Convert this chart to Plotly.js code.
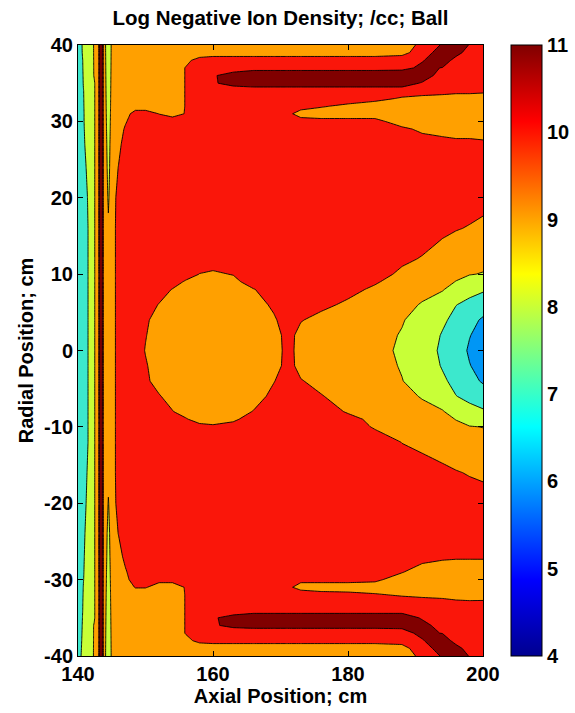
<!DOCTYPE html>
<html>
<head>
<meta charset="utf-8">
<script src="https://cdn.plot.ly/plotly-3.0.1.min.js"></script>
<style>html,body{margin:0;padding:0;background:#fff;}#chart{width:575px;height:713px;}</style>
</head>
<body>
<div id="chart"></div>
<script>
// Axial positions (cm) of the grid columns
const axialPos = [140,140.8,141.6,142.4,143.0,143.4,143.8,144.5,145.2,146,147,148.5,150,152,154,156,158,160,163,166,169,171,173,176,180,184,188,191,194,196,198,200];
// Radial positions (cm) of the grid rows (top to bottom)
const radialPos = [40,39,38,37,36,35,34,33,32,31,30,29,27,24,20,16,12,10,9,8,6,4,2,0,-2,-4,-6,-8,-9,-10,-12,-16,-20,-24,-27,-29,-30,-31,-32,-33,-34,-35,-36,-37,-38,-39,-40];
// Log10 negative ion density (/cc), one row per radial position
const logDensity = [
[7.3,8.23,8.6,9.05,9.5,12.5,9.7,8.0,9.7, 9.5,9.5,9.5,9.5,9.5,9.5,9.5,9.5,9.5,9.5,9.5,9.5,9.5,9.5,9.5,9.5,9.5, 9.4,10.3,11.1,11.6,10.95,10.5],
[7.3,8.2,8.6,9.05,9.5,12.5,9.7,8.05,9.7, 9.5,9.5,9.5,9.5,9.5,9.5,9.5,9.5,9.5,9.5,9.5,9.5,9.5,9.5,9.5,9.5,9.5, 9.7,10.5,11.5,11.5,10.4,10.5],
[7.3,8.1,8.55,9.05,9.5,12.5,9.7,8.1,9.7, 9.5,9.5,9.5,9.5,9.5,9.5, 9.8,10.3, 10.5,10.5,10.5,10.5,10.5,10.5,10.5,10.5,10.5, 10.5,10.9,11.8,10.5,10.5,10.5],
[7.3,8.08,8.5,9.05,9.5,12.5,9.7,8.15,9.7, 9.5,9.5,9.5,9.5,9.5,9.5, 10.05, 10.5,10.5,10.5,10.5,10.5,10.5,10.5,10.5,10.5,10.5, 10.6,11.3,10.95,10.5,10.5,10.5],
[7.3,8.05,8.45,9.05,9.5,12.5,9.7,8.2,9.7, 9.5,9.5,9.5,9.5,9.5,9.5, 10.05,10.5,10.9,11.4, 12,12,12,12,12,12,12,12, 11.6,10.5,10.5,10.5,10.5],
[7.3,8.03,8.4,8.92,9.5,12.5,9.7,8.25,9.7, 9.5,9.5,9.5,9.5,9.5,9.5, 10.05,10.5,10.9,11.3, 11.5,11.5,11.5,11.5,11.5,11.5,11.5,11.5, 10.9,10.5,10.5,10.5,10.5],
[7.3,7.98,8.4,8.92,9.5,12.5,9.7,8.3,9.7, 9.5,9.5,9.5,9.5,9.5,9.5, 10.05, 10.5,10.5,10.5,10.5,10.5,10.5,10.5,10.5,10.5,10.5,10.5,10.5,10.5, 10.3,10.3,10.2],
[7.3,7.97,8.4,8.92,9.5,12.5,9.7,8.35,9.7, 9.5,9.5,9.5,9.5,9.5,9.5, 10.05, 10.5,10.5,10.5,10.5,10.5,10.5,10.5,10.5,10.5, 10.3,9.9,9.7,9.5,9.5,9.5,9.5],
[7.3,7.96,8.38,8.92,9.5,12.5,9.7,8.4,9.7, 9.5,9.5,9.5,9.5,9.5,9.5, 10.05, 10.5,10.5,10.5,10.5,10.5,10.5, 10.3,10.1,9.8,9.5,9.5,9.5,9.5,9.5,9.5,9.5],
[7.3,7.95,8.36,8.92,9.5,12.5,9.7,8.45,9.7, 9.5,9.6,10.4,10.4,9.98,9.7,10.05, 10.5,10.5,10.5,10.5,10.5, 10.2,9.7,9.5,9.5,9.5,9.6,9.5,9.5,9.5,9.5,9.5],
[7.3,7.95,8.35,8.92,9.5,12.5,9.7,8.5,9.7, 9.5,9.9,10.5,10.5,10.4,10.4,10.4, 10.5,10.5,10.5,10.5,10.5,10.5, 10.3,10.3,10.3,10.3,9.5,9.5,9.5,9.5,9.5,9.5],
[7.3,7.94,8.3,8.92,9.5,12.5,9.7,8.55,9.7, 9.6,10.1, 10.5,10.5,10.5,10.5,10.5,10.5,10.5,10.5,10.5,10.5,10.5,10.5,10.5,10.5,10.5, 10.2,9.8,9.5,9.5,9.5,9.5],
[7.3,7.93,8.2,8.92,9.5,12.5,9.7,8.65,9.7, 9.8,10.3, 10.5,10.5,10.5,10.5,10.5,10.5,10.5,10.5,10.5,10.5,10.5,10.5,10.5,10.5,10.5,10.5,10.5,10.5, 10.3,10.3,10.2],
[7.3,7.85,8.15,8.92,9.5,12.5,9.7,8.75,9.7, 10.02, 10.5,10.5,10.5,10.5,10.5,10.5,10.5,10.5,10.5,10.5,10.5,10.5,10.5,10.5,10.5,10.5,10.5,10.5,10.5,10.5,10.5,10.5],
[7.3,7.75,8.08,8.92,9.5,12.5,9.7,8.9,9.7, 10.3, 10.5,10.5,10.5,10.5,10.5,10.5,10.5,10.5,10.5,10.5,10.5,10.5,10.5,10.5,10.5,10.5,10.5,10.5,10.5,10.5, 10.35,10.3],
[7.3,7.7,8.05,8.92,9.5,12.5,9.7,9.1,9.7, 10.4, 10.5,10.5,10.5,10.5,10.5,10.5,10.5,10.5,10.5,10.5,10.5,10.5,10.5,10.5,10.5,10.5,10.5, 10.4,10.2,10.05,9.95,9.8],
[7.3,7.7,8.05,8.92,9.5,12.5,9.7,9.5,9.7, 10.4, 10.5,10.5,10.5,10.5,10.5,10.5,10.5,10.5,10.5,10.5,10.5,10.5,10.5,10.5,10.5,10.5, 10.15,9.95,9.6,9.45,9.4,9.3],
[7.3,7.7,8.05,8.92,9.5,12.5,9.7,9.5,9.7, 10.4, 10.5,10.5,10.5,10.5,10.5,10.5, 9.98,9.85,10.05, 10.5,10.5,10.5,10.5,10.5,10.5, 10.3,9.85,9.5,9.3,9.15,9.05,8.95],
[7.3,7.7,8.05,8.92,9.5,12.5,9.7,9.5,9.7, 10.4, 10.5,10.5,10.5,10.5,10.5, 9.85,9.5,9.5,9.7, 10.5,10.5,10.5,10.5,10.5, 10.4,10.1,9.6,9.35,9.2,8.98,8.6,8.55],
[7.3,7.7,8.05,8.92,9.5,12.5,9.7,9.5,9.7, 10.4, 10.5,10.5,10.5,10.5, 9.95,9.5,9.5,9.5,9.5,9.95, 10.5,10.5,10.5,10.5, 10.25,9.85,9.45,9.2,9.05,8.7,8.25,8.1],
[7.3,7.7,8.05,8.92,9.5,12.5,9.7,9.5,9.7, 10.4, 10.5,10.5,10.5, 9.95,9.5,9.5,9.5,9.5,9.5,9.5, 10.2,10.5,10.5,10.2,9.85,9.55,9.2,8.95,8.6,8.02,7.8,7.55],
[7.3,7.7,8.05,8.92,9.5,12.5,9.7,9.5,9.7, 10.4,10.5,10.5,10.2, 9.5,9.5,9.5,9.5,9.5,9.5,9.5, 9.85,10.5,10.05,9.75,9.5,9.35,9.05,8.7,8.15,7.75,7.35,6.85],
[7.3,7.7,8.05,8.92,9.5,12.5,9.7,9.5,9.7, 10.4,10.5,10.5,10.05, 9.5,9.5,9.5,9.5,9.5,9.5,9.5, 9.6,10.3,9.75,9.55,9.35,9.25,8.95,8.55,7.93,7.65,7.05,6.55],
[7.3,7.7,8.05,8.92,9.5,12.5,9.7,9.5,9.7, 10.4,10.5,10.5,9.95, 9.5,9.5,9.5,9.5,9.5,9.5,9.5,9.5, 10.3,9.7,9.5,9.3,9.2,8.9,8.5,7.82,7.6,6.85,6.4],
[7.3,7.7,8.05,8.92,9.5,12.5,9.7,9.5,9.7, 10.4,10.5,10.5,10.1, 9.5,9.5,9.5,9.5,9.5,9.5,9.5, 9.6,10.3,9.75,9.55,9.35,9.25,8.95,8.55,7.93,7.65,7.05,6.55],
[7.3,7.7,8.05,8.92,9.5,12.5,9.7,9.5,9.7, 10.4,10.5,10.5,10.25, 9.5,9.5,9.5,9.5,9.5,9.5,9.5, 9.95,10.5,10.05,9.75,9.45,9.3,9.02,8.7,8.15,7.75,7.35,6.88],
[7.3,7.7,8.05,8.92,9.5,12.5,9.7,9.5,9.7, 10.4,10.5,10.5,10.5,10.1, 9.5,9.5,9.5,9.5,9.5,9.5, 10.3,10.5,10.5,10.05,9.65,9.45,9.2,8.95,8.6,8.02,7.8,7.55],
[7.3,7.7,8.05,8.92,9.5,12.5,9.7,9.5,9.7, 10.4,10.5,10.5,10.5,10.5,10.05, 9.5,9.5,9.5,9.5, 10.05,10.5,10.5,10.5,10.5,9.9,9.6,9.4,9.2,9.05,8.7,8.25,8.1],
[7.3,7.7,8.05,8.92,9.5,12.5,9.7,9.5,9.7, 10.4,10.5,10.5,10.5,10.5,10.5,10.1, 9.5,9.5,9.8, 10.5,10.5,10.5,10.5,10.5, 10.3,9.75,9.5,9.35,9.2,8.98,8.6,8.55],
[7.3,7.7,8.05,8.92,9.5,12.5,9.7,9.5,9.7, 10.4, 10.5,10.5,10.5,10.5,10.5,10.5, 10.4,10.2,10.4, 10.5,10.5,10.5,10.5,10.5,10.5, 9.9,9.6,9.45,9.3,9.15,9.05,8.98],
[7.3,7.7,8.05,8.92,9.5,12.5,9.7,9.5,9.7, 10.4, 10.5,10.5,10.5,10.5,10.5,10.5,10.5,10.5,10.5,10.5,10.5,10.5,10.5,10.5,10.5,10.5, 9.98,9.8,9.55,9.45,9.4,9.3],
[7.3,7.8,8.1,8.92,9.5,12.5,9.7,9.2,9.7, 10.4, 10.5,10.5,10.5,10.5,10.5,10.5,10.5,10.5,10.5,10.5,10.5,10.5,10.5,10.5,10.5,10.5,10.5, 10.35,10.2,10.05,9.95,9.85],
[7.3,7.85,8.15,8.92,9.5,12.5,9.7,8.95,9.7, 10.3, 10.5,10.5,10.5,10.5,10.5,10.5,10.5,10.5,10.5,10.5,10.5,10.5,10.5,10.5,10.5,10.5,10.5,10.5,10.5,10.5, 10.35,10.35],
[7.3,7.9,8.25,8.92,9.5,12.5,9.7,8.75,9.7, 10.02, 10.5,10.5,10.5,10.5,10.5,10.5,10.5,10.5,10.5,10.5,10.5,10.5,10.5,10.5,10.5,10.5,10.5,10.5,10.5,10.5,10.5,10.5],
[7.3,7.93,8.35,8.92,9.5,12.5,9.7,8.65,9.7, 9.7,10.2, 10.5,10.5,10.5,10.5,10.5,10.5,10.5,10.5,10.5,10.5,10.5,10.5,10.5,10.5,10.5,10.5, 10.4,10.15,10.1,10.1,10.1],
[7.3,7.96,8.38,8.92,9.5,12.5,9.7,8.55,9.7, 9.5,9.9, 10.5,10.5,10.5,10.5,10.5,10.5,10.5,10.5,10.5,10.5,10.5,10.5,10.5,10.5,10.5, 10.06,9.5,9.5,9.5,9.5,9.5],
[7.3,7.98,8.4,8.92,9.5,12.5,9.7,8.5,9.7, 9.5,9.7,10.5,10.5,10.2,10.2,10.4, 10.5,10.5,10.5,10.5,10.5,10.5, 10.2,10.33,10.33,10.21,9.5,9.5,9.5,9.5,9.5,9.5],
[7.3,8.02,8.45,8.92,9.5,12.5,9.7,8.45,9.7, 9.5,9.5,10.05,10.05,9.7,9.7,10.05, 10.5,10.5,10.5,10.5,10.5, 10.2,9.7,9.5,9.5,9.5,9.5,9.5,9.5,9.5,9.5,9.5],
[7.3,8.05,8.5,8.92,9.5,12.5,9.7,8.4,9.7, 9.5,9.5,9.5,9.5,9.5,9.5, 10.05, 10.5,10.5,10.5,10.5,10.5,10.5,10.5, 10.4,10.3,10.1,9.9,9.75,9.65,9.6,9.55,9.6],
[7.3,8.08,8.52,8.92,9.5,12.5,9.7,8.35,9.7, 9.5,9.5,9.5,9.5,9.5,9.5, 10.05, 10.5,10.5,10.5,10.5,10.5,10.5,10.5,10.5,10.5,10.5,10.5,10.5, 10.4,10.2,10.15,10.15],
[7.3,8.1,8.55,8.92,9.5,12.5,9.7,8.3,9.7, 9.5,9.5,9.5,9.5,9.5,9.5, 10.05, 10.5,10.5,10.5,10.5,10.5,10.5,10.5,10.5,10.5,10.5,10.5,10.5,10.5, 10.3,10.3,10.3],
[7.3,8.15,8.58,8.92,9.5,12.5,9.7,8.25,9.7, 9.5,9.5,9.5,9.5,9.5,9.5, 10.05,10.5,10.9,11.3, 11.7,11.7,11.7,11.7,11.7,11.7,11.7,11.7, 10.86,10.5,10.5,10.5,10.5],
[7.3,8.2,8.6,9.05,9.5,12.5,9.7,8.2,9.7, 9.5,9.5,9.5,9.5,9.5,9.5, 10.05,10.5,10.9,11.2, 11.3,11.3,11.3,11.3,11.3,11.3,11.3,11.3, 11.4,10.5,10.5,10.5,10.5],
[7.3,8.25,8.62,9.05,9.5,12.5,9.7,8.15,9.7, 9.5,9.5,9.5,9.5,9.5,9.5, 10.05, 10.5,10.5,10.5,10.5,10.5,10.5,10.5,10.5,10.5,10.5, 10.6,11.3,10.95,10.5,10.5,10.5],
[7.3,8.32,8.65,9.05,9.5,12.5,9.7,8.1,9.7, 9.5,9.5,9.5,9.5,9.5,9.5, 9.8,10.2, 10.3,10.3,10.3,10.3,10.3,10.3,10.3,10.3,10.3,10.3, 10.9,11.8,10.5,10.5,10.5],
[7.3,8.4,8.68,9.05,9.5,12.5,9.7,8.05,9.7, 9.5,9.5,9.5,9.5,9.5,9.5,9.5,9.5,9.5,9.5,9.5,9.5,9.5,9.5,9.5,9.5,9.5, 9.7,10.5,11.5,11.5,10.4,10.4],
[7.3,8.54,8.7,9.05,9.5,12.5,9.7,8.0,9.7, 9.5,9.5,9.5,9.5,9.5,9.5,9.5,9.5,9.5,9.5,9.5,9.5,9.5,9.5,9.5,9.5,9.5, 9.4,10.3,11.1,11.6,10.95,10.5]
];
// Tick values and labels
const axialTicks = [140,160,180,200];
const radialTicks = [-40,-30,-20,-10,0,10,20,30,40];
const radialTickText = ['-40','-30','-20','-10','0','10','20','30','40'];
const colorTicks = [4,5,6,7,8,9,10,11];
// Fill colour of each contour band (jet colour at the band's lower level), below 4 up to >=11
const levelColors = ['rgb(0,0,143)','rgb(0,0,143)','rgb(0,18,255)','rgb(0,150,245)','rgb(60,232,205)','rgb(200,255,55)','rgb(255,160,0)','rgb(250,22,10)','rgb(128,0,0)'];

const FONT = 'Liberation Sans, Arial, sans-serif';
const jet = [[0,'rgb(0,0,143)'],[0.125,'rgb(0,0,255)'],[0.375,'rgb(0,255,255)'],[0.625,'rgb(255,255,0)'],[0.875,'rgb(255,0,0)'],[1,'rgb(128,0,0)']];

// stepped colour scale so that each filled band takes the colour listed above
const n = levelColors.length - 1;
const bandScale = [];
levelColors.forEach((c, i) => {
  const lo = Math.max(0, (i - 0.5) / n), hi = Math.min(1, (i + 0.5) / n);
  bandScale.push([lo, c]); bandScale.push([hi, c]);
});

const yAsc = radialPos.slice().reverse();
const zAsc = logDensity.slice().reverse();

const contour = {
  type: 'contour', x: axialPos, y: yAsc, z: zAsc,
  autocontour: false,
  contours: {start: 4, end: 11, size: 1, coloring: 'fill', showlines: true},
  line: {color: 'black', width: 0.9, smoothing: 0},
  colorscale: bandScale, showscale: false, hoverinfo: 'skip'
};
const tickFont = {family: FONT, size: 20, color: 'black', weight: 'bold'};
const bar = {
  type: 'scatter', x: [null], y: [null], mode: 'markers', showlegend: false, hoverinfo: 'skip',
  marker: {color: [4], cmin: 4, cmax: 11, colorscale: jet, showscale: true,
    colorbar: {x: 1.069, xanchor: 'left', xpad: 0, y: 0.5, yanchor: 'middle', ypad: 0,
      len: 1, lenmode: 'fraction', thickness: 31, thicknessmode: 'pixels',
      outlinewidth: 1, outlinecolor: 'black', tickvals: colorTicks, ticks: '', ticklabelpad: 4,
      tickfont: tickFont}}
};
const axisCommon = {
  ticks: 'inside', ticklen: 5, tickcolor: 'black', mirror: 'ticks', showline: true, linecolor: 'black',
  linewidth: 1, showgrid: false, zeroline: false, tickfont: tickFont
};
const layout = {
  width: 575, height: 713, paper_bgcolor: 'white', plot_bgcolor: 'white',
  margin: {l: 78, r: 92, t: 45, b: 57, autoexpand: false},
  showlegend: false,
  title: {text: 'Log Negative Ion Density; /cc; Ball', x: 0.5, xref: 'paper', y: 0.975, yref: 'container', yanchor: 'middle',
    font: {family: FONT, size: 20.5, color: 'black', weight: 'bold'}},
  xaxis: Object.assign({}, axisCommon, {range: [140, 200], tickvals: axialTicks,
    title: {text: 'Axial Position; cm', standoff: 2, font: {family: FONT, size: 20, color: 'black', weight: 'bold'}}}),
  yaxis: Object.assign({}, axisCommon, {range: [-40, 40], tickvals: radialTicks, ticktext: radialTickText,
    title: {text: 'Radial Position; cm', standoff: 5, font: {family: FONT, size: 20, color: 'black', weight: 'bold'}}})
};
Plotly.newPlot('chart', [contour, bar], layout, {staticPlot: true, displayModeBar: false});
</script>
</body>
</html>
